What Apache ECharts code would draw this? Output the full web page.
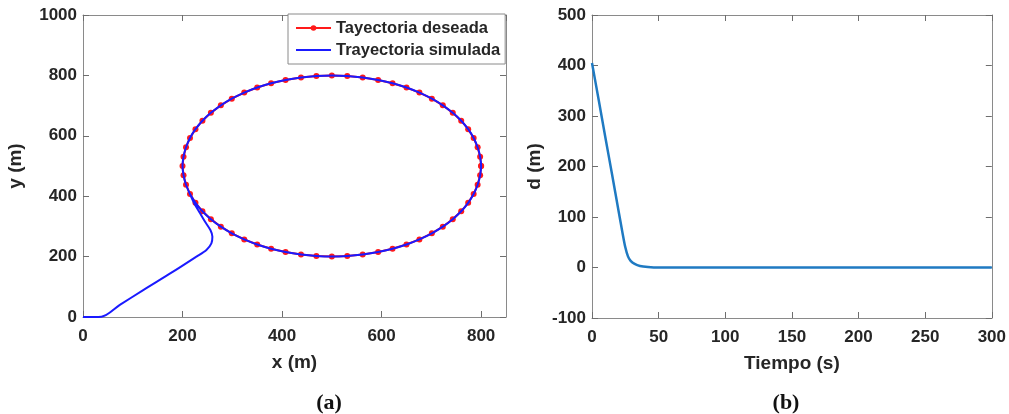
<!DOCTYPE html>
<html style="height: 100%">
<head>
<meta charset="utf-8">
<script src="https://cdn.jsdelivr.net/npm/echarts@6/dist/echarts.min.js"></script>
</head>
<body style="height: 100%; margin: 0; background: #fff">
<div id="container" style="width: 1009px; height: 414px"></div>
<script>
// (a) desired circular path
var deseadaX = [800,798,793,785,774,760,743,723,701,676,650,622,593,562,531,500,469,438,407,378,350,324,299,277,257,240,226,215,207,202,200,202,207,215,226,240,257,277,299,324,350,378,407,438,469,500,531,562,593,622,650,676,701,723,743,760,774,785,793,798,800];
var deseadaY = [500,531,562,593,622,650,676,701,723,743,760,774,785,793,798,800,798,793,785,774,760,743,723,701,676,650,622,593,562,531,500,469,438,407,378,350,324,299,277,257,240,226,215,207,202,200,202,207,215,226,240,257,277,299,324,350,378,407,438,469,500];

// (a) simulated path: approach from origin, then follows the circle
var llegadaX = [0,37,74,121,181,228,248,258,260,256,245,235,224,215];
var llegadaY = [0,1,40,89,150,200,222,244,266,288,316,344,375,407];

// (b) distance error over time
var tiempo = [0,5,10,15,20,23,25,27,29,32,36,42,50,100,150,200,250,300];
var distancia = [405,332,258,185,111,67,40,22,13,7,3,1,0,0,0,0,0,0];

var deseada = deseadaX.map(function (x, i) { return [x, deseadaY[i]]; });
var simulada = llegadaX.map(function (x, i) { return [x, llegadaY[i]]; });
// go round clockwise from the joining point (index 33) back to it
for (var k = 0; k <= 60; k++) {
    var j = (33 - k + 60) % 60;
    simulada.push([deseadaX[j], deseadaY[j]]);
}
var dSerie = tiempo.map(function (t, i) { return [t, distancia[i]]; });

var boxColor = '#8a8a8a';
var txt = '#262626';
var lbl = { color: txt, fontFamily: 'Liberation Sans', fontWeight: 'bold', fontSize: 17 };
var nameStyle = { color: txt, fontFamily: 'Liberation Sans', fontWeight: 'bold', fontSize: 19 };

function axisBase(extra) {
    var a = {
        type: 'value',
        axisLine: { show: true, onZero: false, lineStyle: { color: boxColor, width: 1 } },
        axisTick: { show: true, inside: true, length: 6, lineStyle: { color: '#6e6e6e', width: 1 } },
        splitLine: { show: false },
        axisLabel: Object.assign({ margin: 6, formatter: function (v) { return String(v); } }, lbl)
    };
    return Object.assign(a, extra);
}
function mirror(extra) {
    return axisBase(Object.assign({ axisLabel: { show: false } }, extra));
}

var myChart = echarts.init(document.getElementById('container'));

var option = {
    animation: false,
    backgroundColor: '#fff',
    title: [
        { text: '(a)', left: 324, top: 387, textAlign: 'center',
          textStyle: { fontFamily: 'Liberation Serif', fontWeight: 'bold', fontSize: 22, color: '#111' } },
        { text: '(b)', left: 781, top: 387, textAlign: 'center',
          textStyle: { fontFamily: 'Liberation Serif', fontWeight: 'bold', fontSize: 22, color: '#111' } }
    ],
    legend: {
        left: 288, top: 14,
        orient: 'vertical',
        data: ['Tayectoria deseada', 'Trayectoria simulada'],
        backgroundColor: '#fff',
        borderColor: boxColor,
        borderWidth: 1,
        padding: [3, 5, 3, 7],
        itemGap: 0,
        itemWidth: 35,
        itemHeight: 7,
        textStyle: { color: txt, fontFamily: 'Liberation Sans', fontWeight: 'bold', fontSize: 16.5, lineHeight: 22 }
    },
    grid: [
        { left: 83, top: 15, width: 423, height: 302 },
        { left: 592, top: 15, width: 402, height: 303 }
    ],
    xAxis: [
        axisBase({ gridIndex: 0, min: 0, max: 850, interval: 200,
            name: 'x (m)', nameLocation: 'middle', nameGap: 36, nameTextStyle: nameStyle,
            axisLabel: Object.assign({ margin: 11, showMaxLabel: false }, lbl) }),
        mirror({ gridIndex: 0, min: 0, max: 850, interval: 200, position: 'top' }),
        axisBase({ gridIndex: 1, min: 0, max: 300, interval: 50,
            name: 'Tiempo (s)', nameLocation: 'middle', nameGap: 36, nameTextStyle: nameStyle,
            axisLabel: Object.assign({ margin: 11 }, lbl) }),
        mirror({ gridIndex: 1, min: 0, max: 300, interval: 50, position: 'top' })
    ],
    yAxis: [
        axisBase({ gridIndex: 0, min: 0, max: 1000, interval: 200,
            name: 'y (m)', nameLocation: 'middle', nameGap: 58, nameTextStyle: nameStyle }),
        mirror({ gridIndex: 0, min: 0, max: 1000, interval: 200, position: 'right' }),
        axisBase({ gridIndex: 1, min: -100, max: 500, interval: 100,
            name: 'd (m)', nameLocation: 'middle', nameGap: 48, nameTextStyle: nameStyle }),
        mirror({ gridIndex: 1, min: -100, max: 500, interval: 100, position: 'right' })
    ],
    series: [
        {
            name: 'Tayectoria deseada', type: 'line',
            xAxisIndex: 0, yAxisIndex: 0,
            data: deseada,
            symbol: 'circle', symbolSize: 6,
            itemStyle: { color: '#ff1a1a' },
            lineStyle: { color: '#ff1a1a', width: 2 },
            z: 2
        },
        {
            name: 'Trayectoria simulada', type: 'line',
            xAxisIndex: 0, yAxisIndex: 0,
            data: simulada,
            smooth: 0.3,
            showSymbol: false, symbol: 'line',
            itemStyle: { color: '#1a1aff' },
            lineStyle: { color: '#1a1aff', width: 2 },
            z: 3
        },
        {
            name: 'd', type: 'line',
            xAxisIndex: 2, yAxisIndex: 2,
            data: dSerie,
            smooth: 0.3,
            showSymbol: false, symbol: 'none',
            lineStyle: { color: '#1f7ac2', width: 2.5 }
        }
    ]
};

myChart.setOption(option);
</script>
</body>
</html>
